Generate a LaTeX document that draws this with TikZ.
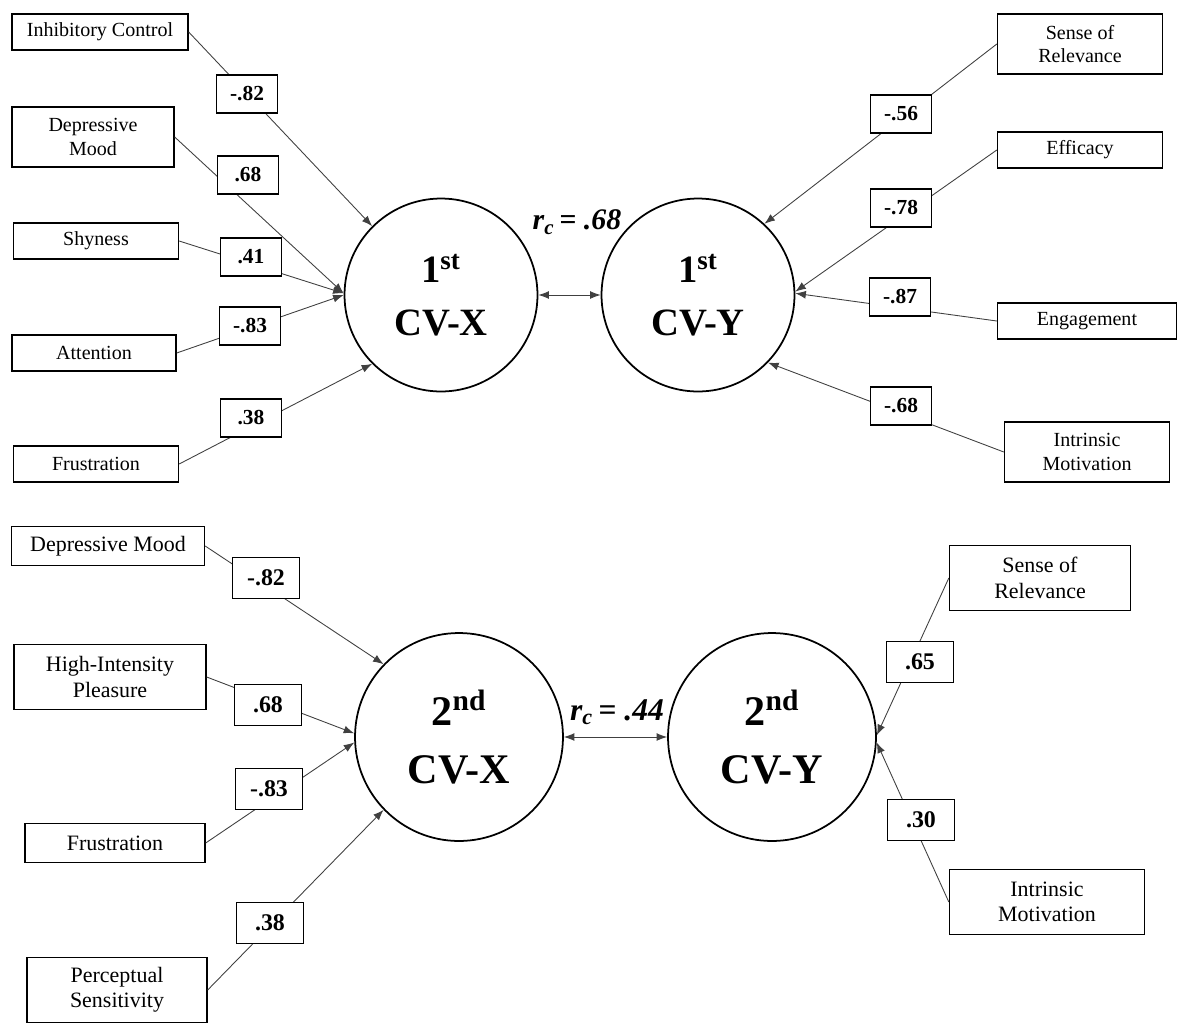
\documentclass[tikz,border=0pt]{standalone}
\usepackage{fontspec}
\setmainfont{Liberation Serif}
\usetikzlibrary{arrows.meta}

\begin{document}
\begin{tikzpicture}[x=0.02cm, y=-0.02cm, >={Latex[length=6pt,width=4.5pt]},
        link/.style={draw=black!75, line width=0.5pt},
        item/.style={draw, line width=0.8pt, align=center, inner sep=2pt,
          minimum width=3.3cm, minimum height=0.72cm,
          font=\fontsize{11.4}{13.5}\selectfont},
        itemb/.style={item, minimum height=0.78cm, font=\fontsize{12.5}{14.5}\selectfont},
        coef/.style={draw, fill=white, line width=0.8pt, inner sep=1pt,
          minimum width=1.22cm, minimum height=0.76cm,
          font=\fontsize{12.2}{14}\selectfont\bfseries},
        coefb/.style={coef, minimum width=1.34cm, minimum height=0.82cm,
          font=\fontsize{13.6}{15}\selectfont\bfseries},
        cv/.style={circle, draw, line width=1pt, inner sep=0pt, align=center,
          minimum size=3.86cm, font=\fontsize{22}{30}\selectfont\bfseries},
        cvb/.style={cv, minimum size=4.16cm, font=\fontsize{24}{33}\selectfont\bfseries},
        rc/.style={font=\fontsize{17}{20}\selectfont\bfseries\itshape},
      ]
      \useasboundingbox (0,0) rectangle (1184,1035);

      % first canonical pair
      \node[cv] (cvx1) at (441,295) {1\textsuperscript{st}\\CV-X};
      \node[cv] (cvy1) at (698,295) {1\textsuperscript{st}\\CV-Y};
      \node[rc] (rc1) at (577,222) {r\textsubscript{c}\,= .68};
      \draw[link, <->] (cvx1) -- (cvy1);

      \node[item, minimum width=3.52cm] (ic) at (100,32) {Inhibitory Control};
      \node[item, minimum width=3.24cm, minimum height=1.2cm] (dm) at (93,137) {Depressive\\Mood};
      \node[item] (shy) at (96,241) {Shyness};
      \node[item, minimum width=3.28cm] (att) at (94,353) {Attention};
      \node[item] (fru) at (96,464) {Frustration};

      \node[item, minimum height=1.2cm] (sor) at (1080,44) {Sense of\\Relevance};
      \node[item] (eff) at (1080,150) {Efficacy};
      \node[item, minimum width=3.58cm] (eng) at (1087,321) {Engagement};
      \node[item, minimum height=1.2cm] (im) at (1087,452) {Intrinsic\\Motivation};

      \foreach \n/\a in {ic/135, dm/179, shy/179, att/180, fru/225}
        \draw[link, ->] (\n.east) -- (cvx1.\a);
      \foreach \n/\a in {sor/47, eff/2, eng/1, im/-44}
        \draw[link, ->] (\n.west) -- (cvy1.\a);

      % second canonical pair
      \node[cvb] (cvx2) at (459,737) {2\textsuperscript{nd}\\CV-X};
      \node[cvb] (cvy2) at (772,737) {2\textsuperscript{nd}\\CV-Y};
      \node[rc, font=\fontsize{18}{21}\selectfont\bfseries\itshape] (rc2) at (617,712) {r\textsubscript{c}\,= .44};
      \draw[link, <->] (cvx2) -- (cvy2);

      \node[itemb, minimum width=3.86cm] (dm2) at (108,546) {Depressive Mood};
      \node[itemb, minimum width=3.84cm, minimum height=1.3cm] (hip) at (110,677) {High-Intensity\\Pleasure};
      \node[itemb, minimum width=3.6cm] (fru2) at (115,843) {Frustration};
      \node[itemb, minimum width=3.6cm, minimum height=1.3cm] (ps) at (117,990) {Perceptual\\Sensitivity};

      \node[itemb, minimum width=3.62cm, minimum height=1.3cm] (sor2) at (1040,578) {Sense of\\Relevance};
      \node[itemb, minimum width=3.9cm, minimum height=1.3cm] (im2) at (1047,902) {Intrinsic\\Motivation};

      \foreach \n/\a in {dm2/136, hip/178, fru2/183, ps/224}
        \draw[link, ->] (\n.east) -- (cvx2.\a);
      \foreach \n/\a in {sor2/1, im2/-3}
        \draw[link, ->] (\n.west) -- (cvy2.\a);

      % loadings on top of the paths
      \foreach \n/\x/\y/\v in {w_ic/247/94/-.82, w_dm/248/175/.68, w_shy/251/257/.41,
          w_att/250/326/-.83, w_fru/251/418/.38, w_sor/901/114/-.56, w_eff/901/208/-.78,
          w_eng/900/297/-.87, w_im/901/406/-.68}
        \node[coef] (\n) at (\x,\y) {\v};
      \foreach \n/\x/\y/\v in {w_dm2/266/578/-.82, w_hip/268/705/.68, w_fru2/269/789/-.83,
          w_ps/270/923/.38, w_sor2/920/662/.65, w_im2/921/820/.30}
        \node[coefb] (\n) at (\x,\y) {\v};
    \end{tikzpicture}
\end{document}
